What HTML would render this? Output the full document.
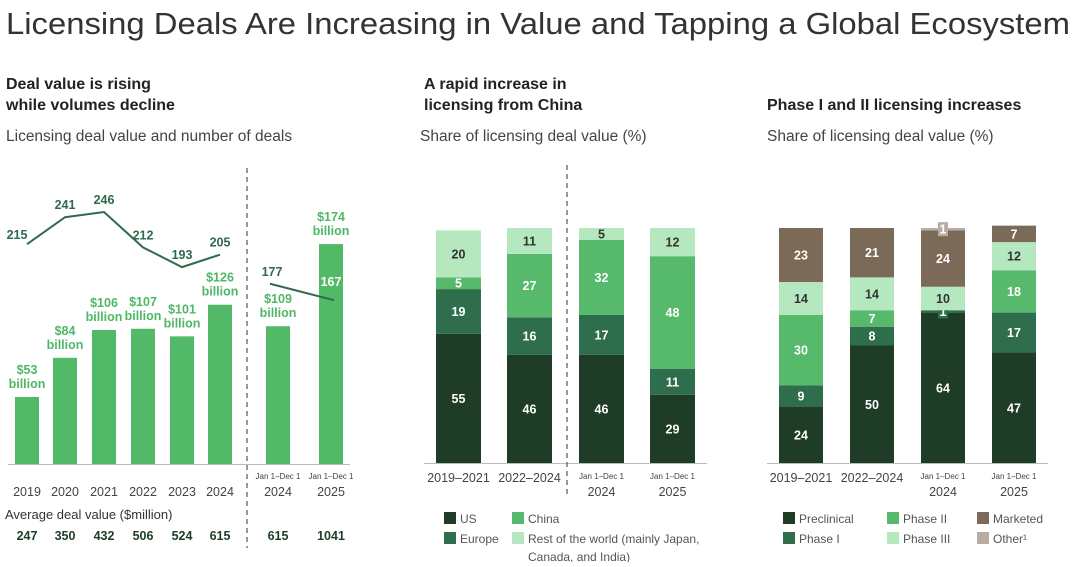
<!DOCTYPE html>
<html><head><meta charset="utf-8"><style>
body{margin:0;width:1080px;height:562px;background:#fff;overflow:hidden;font-family:"Liberation Sans",sans-serif}
svg text{font-family:"Liberation Sans",sans-serif}
</style></head><body>
<svg id="s" width="1080" height="562">
<text x="6" y="34" font-size="31" fill="#333" textLength="1064" lengthAdjust="spacingAndGlyphs">Licensing Deals Are Increasing in Value and Tapping a Global Ecosystem</text>
<text x="6" y="89" font-size="16" font-weight="bold" fill="#222">Deal value is rising</text>
<text x="6" y="110" font-size="16" font-weight="bold" fill="#222">while volumes decline</text>
<text x="6" y="141" font-size="15.5" fill="#444">Licensing deal value and number of deals</text>
<text x="424" y="89" font-size="16" font-weight="bold" fill="#222">A rapid increase in</text>
<text x="424" y="110" font-size="16" font-weight="bold" fill="#222">licensing from China</text>
<text x="420" y="141" font-size="15.5" fill="#444">Share of licensing deal value (%)</text>
<text x="767" y="110" font-size="16" font-weight="bold" fill="#222">Phase I and II licensing increases</text>
<text x="767" y="141" font-size="15.5" fill="#444">Share of licensing deal value (%)</text>
<g id="g1"></g><g id="g2"></g><g id="g3"></g>
</svg>
<script>
const NS="http://www.w3.org/2000/svg";
function mk(p,tag,a,txt){const e=document.createElementNS(NS,tag);for(const k in a)e.setAttribute(k,a[k]);if(txt!==undefined)e.textContent=txt;p.appendChild(e);return e;}
// Panel 1 data
const years=["2019","2020","2021","2022","2023","2024","2024","2025"];
const dealValue=[53,84,106,107,101,126,109,174];
const dealCount=[215,241,246,212,193,205,177,167];
const avgDeal=["247","350","432","506","524","615","615","1041"];
const p1x=[27,65,104,143,182,220,278,331];
const base=464;
const yV=v=>base-v*1.264;
const yC=v=>212+(246-v)*1.04;
const g1=document.getElementById('g1');
dealValue.forEach((v,i)=>{
 const r=mk(g1,'rect',{x:p1x[i]-12,y:yV(v),width:24,height:v*1.264,fill:'#52b968'});
 
 
 const t1=mk(g1,'text',{x:p1x[i],y:yV(v)-23,'text-anchor':'middle','font-size':12.5,'font-weight':'bold',fill:'#4fb866'},'$'+v);
 
 
 const t2=mk(g1,'text',{x:p1x[i],y:yV(v)-9,'text-anchor':'middle','font-size':12.5,'font-weight':'bold',fill:'#4fb866'},'billion');
 
 
 const ty=mk(g1,'text',{x:p1x[i],y:496,'text-anchor':'middle','font-size':12.5,fill:'#444'},years[i]);
 
 
 const ta=mk(g1,'text',{x:p1x[i],y:540,'text-anchor':'middle','font-size':12.5,'font-weight':'bold',fill:'#1f3d26'},avgDeal[i]);
 
 
});
[278,331].forEach(x=>{const t=mk(g1,'text',{x:x,y:479,'text-anchor':'middle','font-size':8,fill:'#444'},'Jan 1–Dec 1');});
let pts=dealCount.slice(0,6).map((v,i)=>p1x[i]+','+yC(v)).join(' ');
const l1=mk(g1,'polyline',{points:pts,fill:'none',stroke:'#2f6a4c','stroke-width':2});


const l2=mk(g1,'line',{x1:p1x[6]-8,y1:yC(dealCount[6]),x2:p1x[7]+3,y2:yC(dealCount[7])+6,stroke:'#2f6a4c','stroke-width':2});


dealCount.forEach((v,i)=>{
 let x=p1x[i],y=yC(v)-8,fill='#2f6a4c';
 if(i==0){x=p1x[0]-10;y=yC(v)-5;}
 if(i==6){x=p1x[6]-6;y=yC(v)-8;}
 if(i==7){y=yC(v)-8;fill='#fff';}
 const t=mk(g1,'text',{x:x,y:y,'text-anchor':'middle','font-size':12.5,'font-weight':'bold',fill:fill},v);
 
 
});
mk(g1,'line',{x1:8,y1:464.5,x2:350,y2:464.5,stroke:'#bbb','stroke-width':1});
mk(g1,'line',{x1:247,y1:168,x2:247,y2:548,stroke:'#555','stroke-width':1.2,'stroke-dasharray':'5,4'});
const at=mk(g1,'text',{x:5,y:519,'font-size':13,fill:'#333'},'Average deal value ($million)');



// stacked panels
function stacked(g,cats,series,names,colors,txtColors,xs,w){
 const top=228,bot=463,H=bot-top;
 cats.forEach((c,i)=>{
  let y=bot;
  series.forEach((s,k)=>{
   const v=s[i];if(!v)return;
   const h=v/100*H;y-=h;
   const r=mk(g,'rect',{x:xs[i],y:y,width:w,height:h,fill:colors[k]});
   
   
   if(h<4){
    const bx=mk(g,'rect',{x:xs[i]+w/2-5,y:y+h/2-7,width:10,height:14,fill:colors[k]});
    
    
   }
   const t=mk(g,'text',{x:xs[i]+w/2,y:y+h/2+4.5,'text-anchor':'middle','font-size':12.5,'font-weight':'bold',fill:txtColors[k]},v);
   
   
  });
  const lab=c.split('|');
  if(lab.length>1){
   const a=mk(g,'text',{x:xs[i]+w/2,y:479,'text-anchor':'middle','font-size':8,fill:'#444'},lab[0]);
   
   const b=mk(g,'text',{x:xs[i]+w/2,y:496,'text-anchor':'middle','font-size':12.5,fill:'#444'},lab[1]);
   
  }else{
   const b=mk(g,'text',{x:xs[i]+w/2,y:482,'text-anchor':'middle','font-size':12.5,fill:'#444'},c);
   
  }
 });
 mk(g,'line',{x1:xs[0]-12,y1:463.5,x2:xs[3]+w+12,y2:463.5,stroke:'#bbb','stroke-width':1});
}
const cats2=["2019–2021","2022–2024","Jan 1–Dec 1|2024","Jan 1–Dec 1|2025"];
const us=[55,46,46,29];
const europe=[19,16,17,11];
const china=[5,27,32,48];
const rest=[20,11,5,12];
const g2=document.getElementById('g2');
stacked(g2,cats2,[us,europe,china,rest],['us','europe','china','rest-of-world'],['#1f3d26','#2f6e4c','#56b96b','#b5e8bf'],['#fff','#fff','#fff','#333'],[436,507,579,650],45);
mk(g2,'line',{x1:567,y1:165,x2:567,y2:498,stroke:'#555','stroke-width':1.2,'stroke-dasharray':'5,4'});
const cats3=["2019–2021","2022–2024","Jan 1–Dec 1|2024","Jan 1–Dec 1|2025"];
const preclinical=[24,50,64,47];
const phase1=[9,8,1,17];
const phase2=[30,7,0,18];
const phase3=[14,14,10,12];
const marketed=[23,21,24,7];
const other=[0,0,1,0];
const g3=document.getElementById('g3');
stacked(g3,cats3,[preclinical,phase1,phase2,phase3,marketed,other],['preclinical','phase-1','phase-2','phase-3','marketed','other'],['#1f3d26','#2f6e4c','#56b96b','#b5e8bf','#7b6a58','#b8ada0'],['#fff','#fff','#fff','#333','#fff','#fff'],[779,850,921,992],44);

function legend(g,items){items.forEach(it=>{
 const r=mk(g,'rect',{x:it[0],y:it[1]-10,width:12,height:12,fill:it[3]});
 
 const t=mk(g,'text',{x:it[0]+16,y:it[1]+1,'font-size':12,fill:'#555'},it[2]);
 
});}
legend(g2,[[444,522,'US','#1f3d26'],[512,522,'China','#56b96b'],[444,542,'Europe','#2f6e4c'],[512,542,'Rest of the world (mainly Japan,','#b5e8bf']]);
const cn=mk(g2,'text',{x:528,y:561,'font-size':12,fill:'#555'},'Canada, and India)');

legend(g3,[[783,522,'Preclinical','#1f3d26'],[887,522,'Phase II','#56b96b'],[977,522,'Marketed','#7b6a58'],[783,542,'Phase I','#2f6e4c'],[887,542,'Phase III','#b5e8bf'],[977,542,'Other¹','#b8ada0']]);
</script>
</body></html>
